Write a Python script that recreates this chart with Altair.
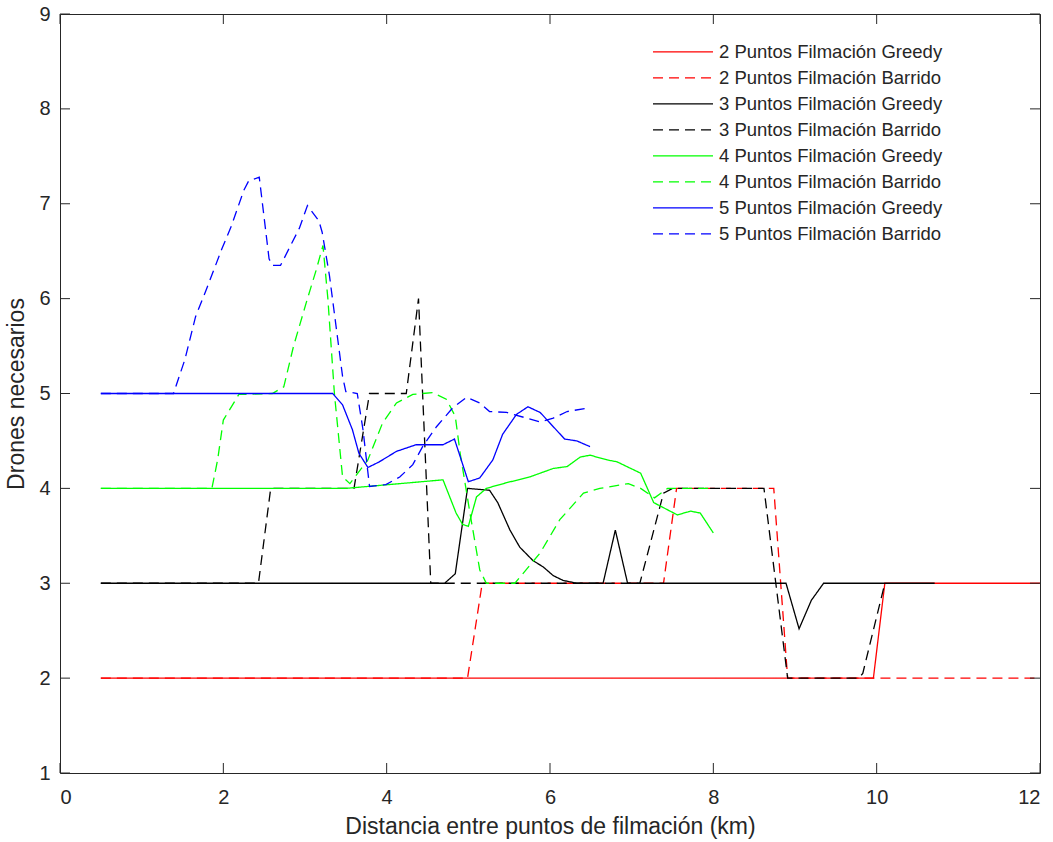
import altair as alt
import pandas as pd

# ---------------- data ----------------
series_names = [
    "2 Puntos Filmación Greedy",
    "2 Puntos Filmación Barrido",
    "3 Puntos Filmación Greedy",
    "3 Puntos Filmación Barrido",
    "4 Puntos Filmación Greedy",
    "4 Puntos Filmación Barrido",
    "5 Puntos Filmación Greedy",
    "5 Puntos Filmación Barrido",
]
series_colors = ["#ff0000", "#ff0000", "#000000", "#000000",
                 "#00ff00", "#00ff00", "#0000ff", "#0000ff"]
series_dashes = [[1, 0], [10, 6], [1, 0], [10, 6],
                 [1, 0], [10, 6], [1, 0], [10, 6]]

x_ticks = [0, 2, 4, 6, 8, 10, 12]
y_ticks = [1, 2, 3, 4, 5, 6, 7, 8, 9]

red_greedy_x = [0.5, 9.96, 10.1, 12.0]
red_greedy_y = [2, 2, 3, 3]

red_barrido_x = [0.5, 4.99, 5.17, 7.39, 7.55, 8.74, 8.91, 12.0]
red_barrido_y = [2, 2, 3, 3, 4, 4, 2, 2]

black_greedy_x = [0.5, 4.71, 4.84, 4.99, 5.26, 5.36, 5.51, 5.63, 5.79, 5.92,
                  6.04, 6.16, 6.33, 6.65, 6.80, 6.95, 8.89, 9.05, 9.2, 9.35, 10.71]
black_greedy_y = [3, 3, 3.1, 4.0, 3.98, 3.85, 3.56, 3.38, 3.24, 3.17,
                  3.08, 3.03, 3.0, 3.0, 3.56, 3.0, 3.0, 2.52, 2.82, 3.0, 3.0]

black_barrido_x = [0.5, 2.43, 2.58, 3.6, 3.79, 4.24, 4.39, 4.54, 7.1, 7.39, 7.5,
                   8.62, 8.91, 9.78, 9.83, 10.1]
black_barrido_y = [3, 3, 4, 4, 5, 5, 6, 3, 3, 3.95, 4,
                   4, 2, 2, 2.05, 3]

green_greedy_x = [0.5, 3.5, 4.69, 4.85, 4.93, 5.0, 5.1, 5.22, 5.47, 5.75, 6.04,
                  6.21, 6.37, 6.49, 6.70, 6.82, 7.11, 7.27, 7.56, 7.72, 7.84, 8.0]
green_greedy_y = [4, 4, 4.09, 3.74, 3.62, 3.6, 3.91, 4.0, 4.06, 4.12, 4.21,
                  4.23, 4.33, 4.35, 4.3, 4.28, 4.16, 3.85, 3.72, 3.76, 3.74, 3.53]

green_barrido_x = [0.5, 1.86, 1.93, 2.0, 2.19, 2.6, 2.74, 2.86, 3.03, 3.14, 3.22,
                   3.28, 3.36, 3.46, 3.55, 3.77, 3.95, 4.12, 4.32, 4.56, 4.73,
                   4.84, 4.9, 5.02, 5.14, 5.22, 5.57, 5.88, 6.12, 6.41, 6.61,
                   6.96, 7.11, 7.28, 7.44, 8.0]
green_barrido_y = [4, 4, 4.3, 4.72, 4.99, 5.0, 5.07, 5.5, 6.0, 6.31, 6.56,
                   6.0, 5.0, 4.12, 4.05, 4.30, 4.69, 4.9, 4.99, 5.01, 4.94,
                   4.76, 4.37, 3.74, 3.14, 3.0, 3.0, 3.32, 3.67, 3.95, 4.0,
                   4.05, 4.0, 3.9, 4.0, 4.0]

blue_greedy_x = [0.5, 3.34, 3.46, 3.58, 3.66, 3.77, 3.91, 4.12, 4.36, 4.69, 4.83,
                 5.0, 5.14, 5.3, 5.42, 5.59, 5.73, 5.88, 6.04, 6.18, 6.33, 6.49]
blue_greedy_y = [5, 5, 4.88, 4.62, 4.37, 4.22, 4.28, 4.39, 4.46, 4.46, 4.52,
                 4.07, 4.11, 4.3, 4.57, 4.78, 4.86, 4.8, 4.65, 4.52, 4.5, 4.44]

blue_barrido_x = [0.5, 1.39, 1.53, 1.66, 1.78, 1.98, 2.1, 2.25, 2.31, 2.44, 2.56,
                  2.6, 2.7, 2.93, 3.03, 3.17, 3.21, 3.3, 3.38, 3.46, 3.5, 3.64,
                  3.71, 3.79, 3.99, 4.16, 4.32, 4.44, 4.61, 4.81, 4.98, 5.14,
                  5.26, 5.47, 5.88, 6.04, 6.21, 6.49]
blue_barrido_y = [5, 5.0, 5.36, 5.81, 6.07, 6.52, 6.77, 7.14, 7.24, 7.28, 6.42,
                  6.35, 6.35, 6.74, 6.98, 6.82, 6.7, 6.24, 5.71, 5.18, 5.02, 5.0,
                  4.62, 4.02, 4.04, 4.12, 4.25, 4.44, 4.65, 4.85, 4.96, 4.9,
                  4.81, 4.8, 4.7, 4.74, 4.81, 4.85]

all_x = [red_greedy_x, red_barrido_x, black_greedy_x, black_barrido_x,
         green_greedy_x, green_barrido_x, blue_greedy_x, blue_barrido_x]
all_y = [red_greedy_y, red_barrido_y, black_greedy_y, black_barrido_y,
         green_greedy_y, green_barrido_y, blue_greedy_y, blue_barrido_y]

rows = []
k = 0
for name, xs_, ys_ in zip(series_names, all_x, all_y):
    for xv, yv in zip(xs_, ys_):
        rows.append({"serie": name, "x": xv, "y": yv, "ord": k})
        k += 1
df = pd.DataFrame(rows)

xt_df = pd.DataFrame({"v": x_ticks})
yt_df = pd.DataFrame({"v": y_ticks})

# ---------------- chart ----------------
W, H = 980, 759
FONT = "Liberation Sans"
GREY = "#262626"
TL = 10  # inward tick length in px

xs = alt.Scale(domain=[0, 12], nice=False, zero=False)
ys = alt.Scale(domain=[1, 9], nice=False, zero=False)

legend_opts = dict(
    title=None, orient="none", legendX=592, legendY=25,
    symbolType="stroke", symbolSize=3600, symbolStrokeWidth=1.3,
    clipHeight=25.7, rowPadding=0, padding=0,
    labelFont=FONT, labelFontSize=18.5, labelColor=GREY,
    labelOffset=5, labelLimit=0,
)

lines = alt.Chart(df).mark_line(strokeWidth=1.3, clip=True).encode(
    x=alt.X("x:Q", scale=xs,
            axis=alt.Axis(orient="bottom", values=x_ticks, ticks=False, domain=False,
                          grid=False, labelPadding=14,
                          title="Distancia entre puntos de filmación (km)",
                          titlePadding=8)),
    y=alt.Y("y:Q", scale=ys,
            axis=alt.Axis(orient="left", values=y_ticks, ticks=False, domain=False,
                          grid=False, labelPadding=10, title="Drones necesarios",
                          titlePadding=10)),
    color=alt.Color("serie:N", scale=alt.Scale(domain=series_names, range=series_colors),
                    legend=alt.Legend(**legend_opts)),
    strokeDash=alt.StrokeDash("serie:N",
                              scale=alt.Scale(domain=series_names, range=series_dashes),
                              legend=alt.Legend(**legend_opts)),
    order="ord:Q",
)

# inward ticks on all four sides (MATLAB box style)
tick_bottom = alt.Chart(xt_df).mark_rule(
    strokeWidth=1, color=GREY, y2Offset=-TL
).encode(x=alt.X("v:Q", scale=xs, axis=None),
         y=alt.YDatum(1, scale=ys, axis=None), y2=alt.Y2Datum(1))

tick_top = alt.Chart(xt_df).mark_rule(
    strokeWidth=1, color=GREY, y2Offset=TL
).encode(x=alt.X("v:Q", scale=xs, axis=None),
         y=alt.YDatum(9, scale=ys, axis=None), y2=alt.Y2Datum(9))

tick_left = alt.Chart(yt_df).mark_rule(
    strokeWidth=1, color=GREY, x2Offset=TL
).encode(y=alt.Y("v:Q", scale=ys, axis=None),
         x=alt.XDatum(0, scale=xs, axis=None), x2=alt.X2Datum(0))

tick_right = alt.Chart(yt_df).mark_rule(
    strokeWidth=1, color=GREY, x2Offset=-TL
).encode(y=alt.Y("v:Q", scale=ys, axis=None),
         x=alt.XDatum(12, scale=xs, axis=None), x2=alt.X2Datum(12))

chart = (
    alt.layer(lines, tick_bottom, tick_top, tick_left, tick_right)
    .resolve_axis(x="independent", y="independent")
    .properties(
        width=W, height=H,
        autosize=alt.AutoSizeParams(type="none"),
        padding={"left": 60, "top": 14, "right": 13, "bottom": 69},
        background="white",
    )
    .configure_view(stroke=GREY, strokeWidth=1)
    .configure_axis(
        labelFont=FONT, labelFontSize=20, labelColor=GREY,
        titleFont=FONT, titleFontSize=23, titleFontWeight="normal", titleColor=GREY,
    )
)

chart.save("out.html", embed_options={"renderer": "svg", "actions": False})
